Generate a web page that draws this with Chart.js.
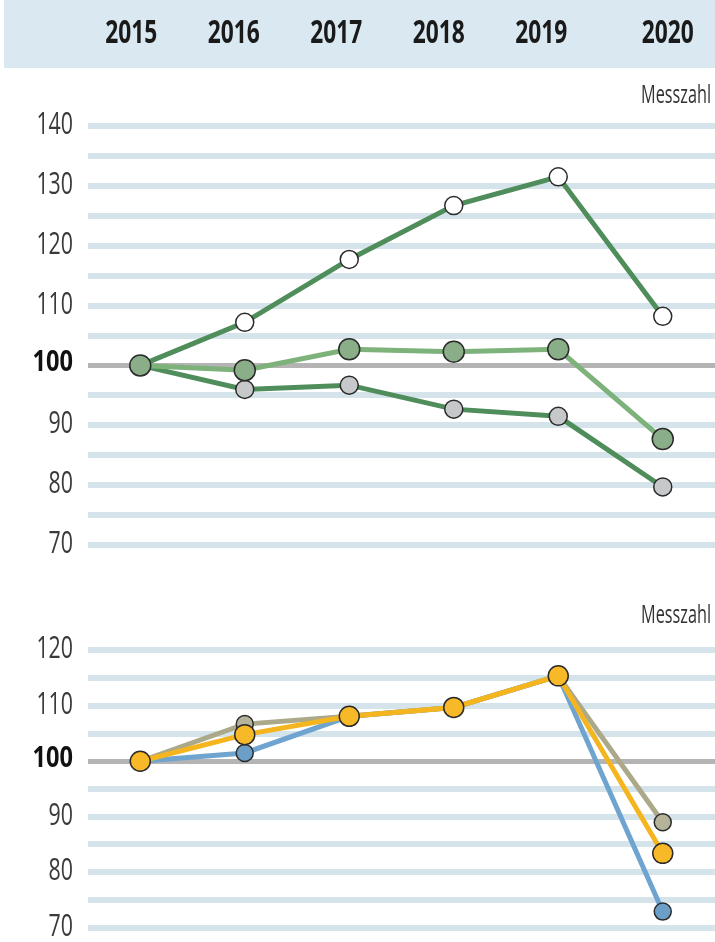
<!DOCTYPE html>
<html>
<head>
<meta charset="utf-8">
<script src="https://cdn.jsdelivr.net/npm/chart.js@4"></script>
<style>
  body { margin: 0; background: #fff; }
  canvas { display: block; }
</style>
</head>
<body>
<canvas id="topChart" width="715" height="575"></canvas>
<canvas id="bottomChart" width="715" height="367"></canvas>
<script>
// data
const years = ['2015', '2016', '2017', '2018', '2019', '2020'];

const topWhite = [100, 107.2, 117.7, 126.7, 131.5, 108.2];
const topGreen = [100, 99.2, 102.7, 102.3, 102.7, 87.7];
const topGrey  = [100, 96.0, 96.7, 92.7, 91.5, 79.7];

const botYellow = [100, 104.8, 108.1, 109.7, 115.4, 83.4];
const botOlive  = [100, 106.7, 108.1, 109.7, 115.4, 89.0];
const botBlue   = [100, 101.5, 108.1, 109.7, 115.4, 72.9];

const topTicks = [70, 75, 80, 85, 90, 95, 100, 105, 110, 115, 120, 125, 130, 135, 140];
const botTicks = [70, 75, 80, 85, 90, 95, 100, 105, 110, 115, 120];

const unitLabel = 'Messzahl';

const FONT = "'Open Sans', 'DejaVu Sans Condensed', sans-serif";

// the original uses a narrow condensed face, so squeeze text horizontally
function squeezeText(ctx, text, x, y, targetW, align) {
  const w = ctx.measureText(text).width;
  const sx = Math.min(1, targetW / w);
  ctx.save();
  ctx.translate(x, y);
  ctx.scale(sx, 1);
  ctx.textAlign = align;
  ctx.textBaseline = 'alphabetic';
  ctx.fillText(text, 0, 0);
  ctx.restore();
}

function lineSet(data, color, fill, radius) {
  return {
    data: data,
    borderColor: color,
    borderWidth: 5,
    pointBackgroundColor: fill,
    pointBorderColor: '#2b2b2b',
    pointBorderWidth: 1.5,
    pointRadius: radius,
    tension: 0
  };
}

function yScale(min, max, ticks) {
  return {
    min: min,
    max: max,
    afterBuildTicks: s => { s.ticks = ticks.map(v => ({ value: v })); },
    afterFit: s => { s.width = 88; },
    border: { display: false },
    grid: {
      drawTicks: false,
      lineWidth: c => c.tick && c.tick.value === 100 ? 5 : 6,
      color: c => c.tick && c.tick.value === 100 ? '#b4b4b4' : '#d5e4eb'
    },
    ticks: { display: false, autoSkip: false }
  };
}

const yLabelPlugin = {
  id: 'yLabels',
  afterDraw(chart) {
    const ctx = chart.ctx;
    const s = chart.scales.y;
    ctx.save();
    s.ticks.forEach(t => {
      if (t.value % 10 !== 0) return;
      const bold = t.value === 100;
      const txt = String(t.value);
      ctx.fillStyle = bold ? '#111' : '#3a3a3a';
      ctx.font = (bold ? 'bold 28px ' : '31px ') + FONT;
      const y = s.getPixelForValue(t.value) + (bold ? 6 : 8);
      squeezeText(ctx, txt, 73, y, txt.length * (bold ? 13.5 : 12.2), 'right');
    });
    ctx.restore();
  }
};

const headerPlugin = {
  id: 'header',
  beforeDraw(chart) {
    const ctx = chart.ctx;
    const x = chart.scales.x;
    ctx.save();
    ctx.fillStyle = '#d9e8f1';
    ctx.fillRect(4, 0, 711, 68);
    ctx.fillStyle = '#1a1a1a';
    ctx.font = 'bold 32px ' + FONT;
    years.forEach((y, i) => {
      const shift = i === years.length - 1 ? 5 : -(9 + i * 2);
      squeezeText(ctx, y, x.getPixelForValue(i) + shift, 43, 52, 'center');
    });
    ctx.restore();
  }
};

function unitPlugin(baseline) {
  return {
    id: 'unit',
    afterDraw(chart) {
      const ctx = chart.ctx;
      ctx.save();
      ctx.fillStyle = '#333';
      ctx.font = '25px ' + FONT;
      squeezeText(ctx, unitLabel, 711, baseline, 70, 'right');
      ctx.restore();
    }
  };
}

const common = {
  responsive: false,
  animation: false,
  plugins: { legend: { display: false }, tooltip: { enabled: false } }
};

new Chart(document.getElementById('topChart').getContext('2d'), {
  type: 'line',
  data: {
    labels: years,
    datasets: [
      lineSet(topGreen, '#7db27a', '#8aae87', 10.5),
      lineSet(topWhite, '#4f8d5b', '#ffffff', 9),
      lineSet(topGrey, '#4f8d5b', '#c6c8ca', 9)
    ]
  },
  options: {
    ...common,
    layout: { autoPadding: false, padding: { top: 117, bottom: 21, left: 0, right: 0 } },
    scales: {
      x: { display: false, offset: true },
      y: yScale(68.5, 141.5, topTicks)
    }
  },
  plugins: [headerPlugin, yLabelPlugin, unitPlugin(103)]
});

new Chart(document.getElementById('bottomChart').getContext('2d'), {
  type: 'line',
  data: {
    labels: years,
    datasets: [
      lineSet(botYellow, '#f4b51f', '#f7b928', 10),
      lineSet(botOlive, '#aba98a', '#b5b49b', 8.5),
      lineSet(botBlue, '#6ea4cf', '#6c9fc8', 8.5)
    ]
  },
  options: {
    ...common,
    layout: { autoPadding: false, padding: { top: 67, bottom: 6, left: 0, right: 0 } },
    scales: {
      x: { display: false, offset: true },
      y: yScale(68.5, 121.5, botTicks)
    }
  },
  plugins: [yLabelPlugin, unitPlugin(48)]
});
</script>
</body>
</html>
